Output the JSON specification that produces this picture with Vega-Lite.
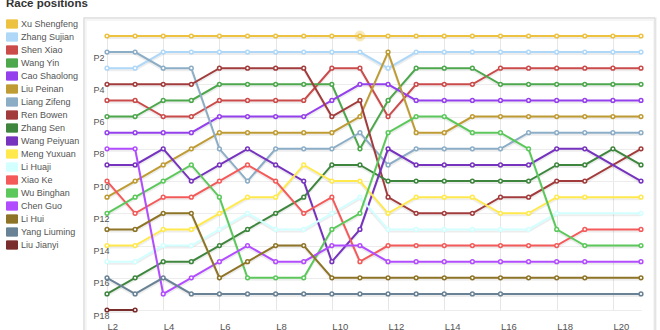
{
  "$schema": "https://vega.github.io/schema/vega-lite/v6.json",
  "autosize": {"type": "none"},
  "padding": {"left": 107, "top": 36, "right": 19, "bottom": 20},
  "width": 534,
  "height": 274,
  "background": "white",
  "config": {
    "view": {"stroke": null},
    "axisX": {"grid": true, "gridColor": "#e6e6e6", "domain": false, "ticks": false, "labelAlign": "left", "labelBaseline": "top", "labelPadding": 11, "labelFontSize": 9.5, "labelFont": "Liberation Sans", "labelColor": "#545454", "labelFlush": false, "labelOverlap": false, "title": null},
    "axisY": {"grid": true, "gridColor": "#ececec", "domain": false, "ticks": false, "labelAlign": "left", "labelBaseline": "alphabetic", "labelOffset": 8, "labelPadding": 14, "labelFontSize": 9, "labelFont": "Liberation Sans", "labelColor": "#545454", "labelFlush": false, "labelOverlap": false, "title": null}
  },
  "title": {"text": "Race positions", "anchor": "start", "frame": "group", "dx": -101, "dy": 3, "offset": 1, "baseline": "alphabetic", "fontSize": 11.5, "font": "Liberation Sans", "fontWeight": "bold", "color": "#333333"},
  "datasets": {
    "race": [
      {"d":"Xu Shengfeng","l":2,"p":1},{"d":"Xu Shengfeng","l":3,"p":1},{"d":"Xu Shengfeng","l":4,"p":1},{"d":"Xu Shengfeng","l":5,"p":1},{"d":"Xu Shengfeng","l":6,"p":1},{"d":"Xu Shengfeng","l":7,"p":1},{"d":"Xu Shengfeng","l":8,"p":1},{"d":"Xu Shengfeng","l":9,"p":1},{"d":"Xu Shengfeng","l":10,"p":1},{"d":"Xu Shengfeng","l":11,"p":1},{"d":"Xu Shengfeng","l":12,"p":1},{"d":"Xu Shengfeng","l":13,"p":1},{"d":"Xu Shengfeng","l":14,"p":1},{"d":"Xu Shengfeng","l":15,"p":1},{"d":"Xu Shengfeng","l":16,"p":1},{"d":"Xu Shengfeng","l":17,"p":1},{"d":"Xu Shengfeng","l":18,"p":1},{"d":"Xu Shengfeng","l":19,"p":1},{"d":"Xu Shengfeng","l":20,"p":1},{"d":"Xu Shengfeng","l":21,"p":1},
      {"d":"Zhang Sujian","l":2,"p":3},{"d":"Zhang Sujian","l":3,"p":3},{"d":"Zhang Sujian","l":4,"p":2},{"d":"Zhang Sujian","l":5,"p":2},{"d":"Zhang Sujian","l":6,"p":2},{"d":"Zhang Sujian","l":7,"p":2},{"d":"Zhang Sujian","l":8,"p":2},{"d":"Zhang Sujian","l":9,"p":2},{"d":"Zhang Sujian","l":10,"p":2},{"d":"Zhang Sujian","l":11,"p":2},{"d":"Zhang Sujian","l":12,"p":3},{"d":"Zhang Sujian","l":13,"p":2},{"d":"Zhang Sujian","l":14,"p":2},{"d":"Zhang Sujian","l":15,"p":2},{"d":"Zhang Sujian","l":16,"p":2},{"d":"Zhang Sujian","l":17,"p":2},{"d":"Zhang Sujian","l":18,"p":2},{"d":"Zhang Sujian","l":19,"p":2},{"d":"Zhang Sujian","l":20,"p":2},{"d":"Zhang Sujian","l":21,"p":2},
      {"d":"Shen Xiao","l":2,"p":5},{"d":"Shen Xiao","l":3,"p":5},{"d":"Shen Xiao","l":4,"p":6},{"d":"Shen Xiao","l":5,"p":6},{"d":"Shen Xiao","l":6,"p":5},{"d":"Shen Xiao","l":7,"p":5},{"d":"Shen Xiao","l":8,"p":5},{"d":"Shen Xiao","l":9,"p":5},{"d":"Shen Xiao","l":10,"p":3},{"d":"Shen Xiao","l":11,"p":3},{"d":"Shen Xiao","l":12,"p":6},{"d":"Shen Xiao","l":13,"p":4},{"d":"Shen Xiao","l":14,"p":4},{"d":"Shen Xiao","l":15,"p":4},{"d":"Shen Xiao","l":16,"p":3},{"d":"Shen Xiao","l":17,"p":3},{"d":"Shen Xiao","l":18,"p":3},{"d":"Shen Xiao","l":19,"p":3},{"d":"Shen Xiao","l":20,"p":3},{"d":"Shen Xiao","l":21,"p":3},
      {"d":"Wang Yin","l":2,"p":6},{"d":"Wang Yin","l":3,"p":6},{"d":"Wang Yin","l":4,"p":5},{"d":"Wang Yin","l":5,"p":5},{"d":"Wang Yin","l":6,"p":4},{"d":"Wang Yin","l":7,"p":4},{"d":"Wang Yin","l":8,"p":4},{"d":"Wang Yin","l":9,"p":4},{"d":"Wang Yin","l":10,"p":4},{"d":"Wang Yin","l":11,"p":8},{"d":"Wang Yin","l":12,"p":5},{"d":"Wang Yin","l":13,"p":3},{"d":"Wang Yin","l":14,"p":3},{"d":"Wang Yin","l":15,"p":3},{"d":"Wang Yin","l":16,"p":4},{"d":"Wang Yin","l":17,"p":4},{"d":"Wang Yin","l":18,"p":4},{"d":"Wang Yin","l":19,"p":4},{"d":"Wang Yin","l":20,"p":4},{"d":"Wang Yin","l":21,"p":4},
      {"d":"Cao Shaolong","l":2,"p":7},{"d":"Cao Shaolong","l":3,"p":7},{"d":"Cao Shaolong","l":4,"p":7},{"d":"Cao Shaolong","l":5,"p":7},{"d":"Cao Shaolong","l":6,"p":6},{"d":"Cao Shaolong","l":7,"p":6},{"d":"Cao Shaolong","l":8,"p":6},{"d":"Cao Shaolong","l":9,"p":6},{"d":"Cao Shaolong","l":10,"p":5},{"d":"Cao Shaolong","l":11,"p":4},{"d":"Cao Shaolong","l":12,"p":4},{"d":"Cao Shaolong","l":13,"p":5},{"d":"Cao Shaolong","l":14,"p":5},{"d":"Cao Shaolong","l":15,"p":5},{"d":"Cao Shaolong","l":16,"p":5},{"d":"Cao Shaolong","l":17,"p":5},{"d":"Cao Shaolong","l":18,"p":5},{"d":"Cao Shaolong","l":19,"p":5},{"d":"Cao Shaolong","l":20,"p":5},{"d":"Cao Shaolong","l":21,"p":5},
      {"d":"Liu Peinan","l":2,"p":11},{"d":"Liu Peinan","l":3,"p":10},{"d":"Liu Peinan","l":4,"p":9},{"d":"Liu Peinan","l":5,"p":8},{"d":"Liu Peinan","l":6,"p":7},{"d":"Liu Peinan","l":7,"p":7},{"d":"Liu Peinan","l":8,"p":7},{"d":"Liu Peinan","l":9,"p":7},{"d":"Liu Peinan","l":10,"p":7},{"d":"Liu Peinan","l":11,"p":6},{"d":"Liu Peinan","l":12,"p":2},{"d":"Liu Peinan","l":13,"p":7},{"d":"Liu Peinan","l":14,"p":7},{"d":"Liu Peinan","l":15,"p":6},{"d":"Liu Peinan","l":16,"p":6},{"d":"Liu Peinan","l":17,"p":6},{"d":"Liu Peinan","l":18,"p":6},{"d":"Liu Peinan","l":19,"p":6},{"d":"Liu Peinan","l":20,"p":6},{"d":"Liu Peinan","l":21,"p":6},
      {"d":"Liang Zifeng","l":2,"p":2},{"d":"Liang Zifeng","l":3,"p":2},{"d":"Liang Zifeng","l":4,"p":3},{"d":"Liang Zifeng","l":5,"p":3},{"d":"Liang Zifeng","l":6,"p":8},{"d":"Liang Zifeng","l":7,"p":10},{"d":"Liang Zifeng","l":8,"p":8},{"d":"Liang Zifeng","l":9,"p":8},{"d":"Liang Zifeng","l":10,"p":8},{"d":"Liang Zifeng","l":11,"p":7},{"d":"Liang Zifeng","l":12,"p":9},{"d":"Liang Zifeng","l":13,"p":8},{"d":"Liang Zifeng","l":14,"p":8},{"d":"Liang Zifeng","l":15,"p":8},{"d":"Liang Zifeng","l":16,"p":8},{"d":"Liang Zifeng","l":17,"p":7},{"d":"Liang Zifeng","l":18,"p":7},{"d":"Liang Zifeng","l":19,"p":7},{"d":"Liang Zifeng","l":20,"p":7},{"d":"Liang Zifeng","l":21,"p":7},
      {"d":"Ren Bowen","l":2,"p":4},{"d":"Ren Bowen","l":3,"p":4},{"d":"Ren Bowen","l":4,"p":4},{"d":"Ren Bowen","l":5,"p":4},{"d":"Ren Bowen","l":6,"p":3},{"d":"Ren Bowen","l":7,"p":3},{"d":"Ren Bowen","l":8,"p":3},{"d":"Ren Bowen","l":9,"p":3},{"d":"Ren Bowen","l":10,"p":6},{"d":"Ren Bowen","l":11,"p":5},{"d":"Ren Bowen","l":12,"p":11},{"d":"Ren Bowen","l":13,"p":12},{"d":"Ren Bowen","l":14,"p":12},{"d":"Ren Bowen","l":15,"p":12},{"d":"Ren Bowen","l":16,"p":11},{"d":"Ren Bowen","l":17,"p":11},{"d":"Ren Bowen","l":18,"p":10},{"d":"Ren Bowen","l":19,"p":10},{"d":"Ren Bowen","l":21,"p":8},
      {"d":"Zhang Sen","l":2,"p":17},{"d":"Zhang Sen","l":3,"p":16},{"d":"Zhang Sen","l":4,"p":15},{"d":"Zhang Sen","l":5,"p":15},{"d":"Zhang Sen","l":6,"p":14},{"d":"Zhang Sen","l":7,"p":13},{"d":"Zhang Sen","l":8,"p":12},{"d":"Zhang Sen","l":9,"p":11},{"d":"Zhang Sen","l":10,"p":9},{"d":"Zhang Sen","l":11,"p":9},{"d":"Zhang Sen","l":12,"p":10},{"d":"Zhang Sen","l":13,"p":10},{"d":"Zhang Sen","l":14,"p":10},{"d":"Zhang Sen","l":15,"p":10},{"d":"Zhang Sen","l":16,"p":10},{"d":"Zhang Sen","l":17,"p":10},{"d":"Zhang Sen","l":18,"p":9},{"d":"Zhang Sen","l":19,"p":9},{"d":"Zhang Sen","l":20,"p":8},{"d":"Zhang Sen","l":21,"p":9},
      {"d":"Wang Peiyuan","l":2,"p":9},{"d":"Wang Peiyuan","l":3,"p":9},{"d":"Wang Peiyuan","l":4,"p":8},{"d":"Wang Peiyuan","l":5,"p":10},{"d":"Wang Peiyuan","l":6,"p":9},{"d":"Wang Peiyuan","l":7,"p":8},{"d":"Wang Peiyuan","l":8,"p":9},{"d":"Wang Peiyuan","l":9,"p":10},{"d":"Wang Peiyuan","l":10,"p":15},{"d":"Wang Peiyuan","l":11,"p":13},{"d":"Wang Peiyuan","l":12,"p":8},{"d":"Wang Peiyuan","l":13,"p":9},{"d":"Wang Peiyuan","l":14,"p":9},{"d":"Wang Peiyuan","l":15,"p":9},{"d":"Wang Peiyuan","l":16,"p":9},{"d":"Wang Peiyuan","l":17,"p":9},{"d":"Wang Peiyuan","l":18,"p":8},{"d":"Wang Peiyuan","l":19,"p":8},{"d":"Wang Peiyuan","l":21,"p":10},
      {"d":"Meng Yuxuan","l":2,"p":14},{"d":"Meng Yuxuan","l":3,"p":14},{"d":"Meng Yuxuan","l":4,"p":13},{"d":"Meng Yuxuan","l":5,"p":13},{"d":"Meng Yuxuan","l":6,"p":12},{"d":"Meng Yuxuan","l":7,"p":11},{"d":"Meng Yuxuan","l":8,"p":11},{"d":"Meng Yuxuan","l":9,"p":9},{"d":"Meng Yuxuan","l":10,"p":10},{"d":"Meng Yuxuan","l":11,"p":10},{"d":"Meng Yuxuan","l":12,"p":12},{"d":"Meng Yuxuan","l":13,"p":11},{"d":"Meng Yuxuan","l":14,"p":11},{"d":"Meng Yuxuan","l":15,"p":11},{"d":"Meng Yuxuan","l":16,"p":12},{"d":"Meng Yuxuan","l":17,"p":12},{"d":"Meng Yuxuan","l":18,"p":11},{"d":"Meng Yuxuan","l":19,"p":11},{"d":"Meng Yuxuan","l":21,"p":11},
      {"d":"Li Huaji","l":2,"p":15},{"d":"Li Huaji","l":3,"p":15},{"d":"Li Huaji","l":4,"p":14},{"d":"Li Huaji","l":5,"p":14},{"d":"Li Huaji","l":6,"p":13},{"d":"Li Huaji","l":7,"p":12},{"d":"Li Huaji","l":8,"p":13},{"d":"Li Huaji","l":9,"p":13},{"d":"Li Huaji","l":10,"p":12},{"d":"Li Huaji","l":11,"p":11},{"d":"Li Huaji","l":12,"p":13},{"d":"Li Huaji","l":13,"p":13},{"d":"Li Huaji","l":14,"p":13},{"d":"Li Huaji","l":15,"p":13},{"d":"Li Huaji","l":16,"p":13},{"d":"Li Huaji","l":17,"p":13},{"d":"Li Huaji","l":18,"p":12},{"d":"Li Huaji","l":21,"p":12},
      {"d":"Xiao Ke","l":2,"p":10},{"d":"Xiao Ke","l":3,"p":12},{"d":"Xiao Ke","l":4,"p":11},{"d":"Xiao Ke","l":5,"p":11},{"d":"Xiao Ke","l":6,"p":10},{"d":"Xiao Ke","l":7,"p":9},{"d":"Xiao Ke","l":8,"p":10},{"d":"Xiao Ke","l":9,"p":12},{"d":"Xiao Ke","l":10,"p":11},{"d":"Xiao Ke","l":11,"p":15},{"d":"Xiao Ke","l":12,"p":14},{"d":"Xiao Ke","l":13,"p":14},{"d":"Xiao Ke","l":14,"p":14},{"d":"Xiao Ke","l":15,"p":14},{"d":"Xiao Ke","l":16,"p":14},{"d":"Xiao Ke","l":17,"p":14},{"d":"Xiao Ke","l":18,"p":14},{"d":"Xiao Ke","l":19,"p":13},{"d":"Xiao Ke","l":21,"p":13},
      {"d":"Wu Binghan","l":2,"p":12},{"d":"Wu Binghan","l":3,"p":11},{"d":"Wu Binghan","l":4,"p":10},{"d":"Wu Binghan","l":5,"p":9},{"d":"Wu Binghan","l":6,"p":11},{"d":"Wu Binghan","l":7,"p":16},{"d":"Wu Binghan","l":8,"p":16},{"d":"Wu Binghan","l":9,"p":16},{"d":"Wu Binghan","l":10,"p":13},{"d":"Wu Binghan","l":11,"p":12},{"d":"Wu Binghan","l":12,"p":7},{"d":"Wu Binghan","l":13,"p":6},{"d":"Wu Binghan","l":14,"p":6},{"d":"Wu Binghan","l":15,"p":7},{"d":"Wu Binghan","l":16,"p":7},{"d":"Wu Binghan","l":17,"p":8},{"d":"Wu Binghan","l":18,"p":13},{"d":"Wu Binghan","l":19,"p":14},{"d":"Wu Binghan","l":21,"p":14},
      {"d":"Chen Guo","l":2,"p":8},{"d":"Chen Guo","l":3,"p":8},{"d":"Chen Guo","l":4,"p":17},{"d":"Chen Guo","l":5,"p":16},{"d":"Chen Guo","l":6,"p":15},{"d":"Chen Guo","l":7,"p":14},{"d":"Chen Guo","l":8,"p":15},{"d":"Chen Guo","l":9,"p":15},{"d":"Chen Guo","l":10,"p":14},{"d":"Chen Guo","l":11,"p":14},{"d":"Chen Guo","l":12,"p":15},{"d":"Chen Guo","l":13,"p":15},{"d":"Chen Guo","l":14,"p":15},{"d":"Chen Guo","l":15,"p":15},{"d":"Chen Guo","l":16,"p":15},{"d":"Chen Guo","l":17,"p":15},{"d":"Chen Guo","l":18,"p":15},{"d":"Chen Guo","l":19,"p":15},{"d":"Chen Guo","l":21,"p":15},
      {"d":"Li Hui","l":2,"p":13},{"d":"Li Hui","l":3,"p":13},{"d":"Li Hui","l":4,"p":12},{"d":"Li Hui","l":5,"p":12},{"d":"Li Hui","l":6,"p":16},{"d":"Li Hui","l":7,"p":15},{"d":"Li Hui","l":8,"p":14},{"d":"Li Hui","l":9,"p":14},{"d":"Li Hui","l":10,"p":16},{"d":"Li Hui","l":11,"p":16},{"d":"Li Hui","l":12,"p":16},{"d":"Li Hui","l":13,"p":16},{"d":"Li Hui","l":14,"p":16},{"d":"Li Hui","l":15,"p":16},{"d":"Li Hui","l":16,"p":16},{"d":"Li Hui","l":17,"p":16},{"d":"Li Hui","l":18,"p":16},{"d":"Li Hui","l":19,"p":16},{"d":"Li Hui","l":21,"p":16},
      {"d":"Yang Liuming","l":2,"p":16},{"d":"Yang Liuming","l":3,"p":17},{"d":"Yang Liuming","l":4,"p":16},{"d":"Yang Liuming","l":5,"p":17},{"d":"Yang Liuming","l":6,"p":17},{"d":"Yang Liuming","l":7,"p":17},{"d":"Yang Liuming","l":8,"p":17},{"d":"Yang Liuming","l":9,"p":17},{"d":"Yang Liuming","l":10,"p":17},{"d":"Yang Liuming","l":11,"p":17},{"d":"Yang Liuming","l":12,"p":17},{"d":"Yang Liuming","l":13,"p":17},{"d":"Yang Liuming","l":14,"p":17},{"d":"Yang Liuming","l":15,"p":17},{"d":"Yang Liuming","l":16,"p":17},{"d":"Yang Liuming","l":21,"p":17},
      {"d":"Liu Jianyi","l":2,"p":18},{"d":"Liu Jianyi","l":3,"p":18}
    ],
    "hover": [{"d":"Xu Shengfeng","l":11,"p":1}],
    "frame": [{"x0":1.18,"x1":21.5,"y0":-0.12,"y1":19.86}]
  },
  "layer": [
    {
      "data": {"name": "frame"},
      "mark": {"type": "rect", "fill": "transparent", "stroke": "black", "strokeOpacity": 0.04, "strokeWidth": 4, "xOffset": 1, "yOffset": 1, "clip": false},
      "encoding": {
        "x": {"field": "x0", "type": "quantitative", "scale": {"domain": [2, 21], "nice": false, "zero": false},
              "axis": {"values": [2,4,6,8,10,12,14,16,18,20], "labelExpr": "'L' + datum.value", "labelOverlap": false}},
        "x2": {"field": "x1"},
        "y": {"field": "y0", "type": "quantitative", "scale": {"domain": [1, 18], "reverse": true, "nice": false, "zero": false},
              "axis": {"values": [2,4,6,8,10,12,14,16,18], "labelExpr": "'P' + datum.value", "labelOverlap": false, "tickCount": 9}},
        "y2": {"field": "y1"}
      }
    },
    {
      "data": {"name": "frame"},
      "mark": {"type": "rect", "fill": "transparent", "stroke": "#d6d6d6", "strokeWidth": 1, "clip": false},
      "encoding": {
        "x": {"field": "x0", "type": "quantitative"},
        "x2": {"field": "x1"},
        "y": {"field": "y0", "type": "quantitative"},
        "y2": {"field": "y1"}
      }
    },
    {
      "data": {"name": "race"},
      "mark": {"type": "line", "stroke": "black", "strokeOpacity": 0.07, "strokeWidth": 2, "yOffset": 2},
      "encoding": {
        "x": {"field": "l", "type": "quantitative"},
        "y": {"field": "p", "type": "quantitative"},
        "detail": {"field": "d", "type": "nominal"}
      }
    },
    {
      "data": {"name": "race"},
      "mark": {"type": "line", "strokeWidth": 2},
      "encoding": {
        "x": {"field": "l", "type": "quantitative",
              "axis": {"values": [2,4,6,8,10,12,14,16,18,20], "labelExpr": "'L' + datum.value", "labelOverlap": false}},
        "y": {"field": "p", "type": "quantitative",
              "axis": {"values": [2,4,6,8,10,12,14,16,18], "labelExpr": "'P' + datum.value", "labelOverlap": false, "tickCount": 9}},
        "color": {"field": "d", "type": "nominal",
          "scale": {"domain": ["Xu Shengfeng","Zhang Sujian","Shen Xiao","Wang Yin","Cao Shaolong","Liu Peinan","Liang Zifeng","Ren Bowen","Zhang Sen","Wang Peiyuan","Meng Yuxuan","Li Huaji","Xiao Ke","Wu Binghan","Chen Guo","Li Hui","Yang Liuming","Liu Jianyi"],
                    "range": ["#edc240","#afd8f8","#cb4b4b","#4da74d","#9440ed","#be9b33","#8cadc6","#a23c3c","#3e863e","#7633be","#ffe94d","#d2ffff","#f45a5a","#5cc85c","#b24dff","#8e7426","#698295","#7a2d2d"]},
          "legend": {"orient": "none", "legendX": -101, "legendY": -18, "title": null, "symbolType": "M-1,-0.75H1V0.75H-1Z", "symbolSize": 121, "symbolStrokeWidth": 1, "labelFontSize": 9, "labelFont": "Liberation Sans", "labelColor": "#545454", "rowPadding": -1, "labelOffset": 3, "padding": 0, "symbolOffset": 0,
            "encode": {"symbols": {"update": {"fill": {"scale": "color", "field": "value"}, "stroke": {"value": "#cccccc"}, "fillOpacity": {"value": 1}, "strokeWidth": {"value": 1}}}}}
        }
      }
    },
    {
      "data": {"name": "race"},
      "mark": {"type": "point", "filled": false, "fill": "white", "fillOpacity": 1, "opacity": 1, "strokeWidth": 1.5, "size": 14},
      "encoding": {
        "x": {"field": "l", "type": "quantitative"},
        "y": {"field": "p", "type": "quantitative"},
        "color": {"field": "d", "type": "nominal"}
      }
    },
    {
      "data": {"name": "hover"},
      "mark": {"type": "point", "filled": false, "stroke": "#edc240", "strokeOpacity": 0.5, "strokeWidth": 3.5, "size": 55},
      "encoding": {
        "x": {"field": "l", "type": "quantitative"},
        "y": {"field": "p", "type": "quantitative"}
      }
    }
  ]
}
